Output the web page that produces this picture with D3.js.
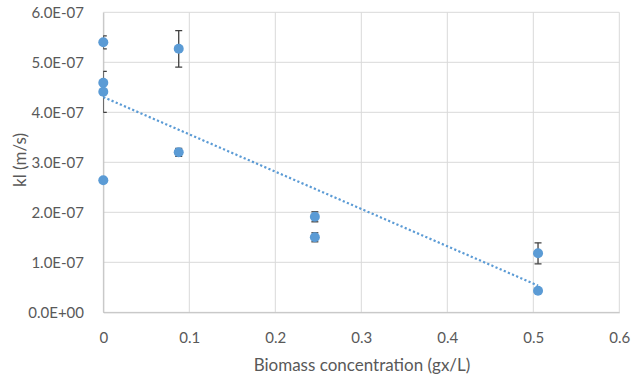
<!DOCTYPE html>
<html><head><meta charset="utf-8">
<script src="https://cdn.jsdelivr.net/npm/d3@7"></script>
<style>html,body{margin:0;padding:0;background:#fff;}svg{display:block;}</style>
</head><body>
<svg id="c" width="633" height="376"></svg>
<script>
const xVals = [0, 0, 0, 0, 0.0877, 0.0877, 0.246, 0.246, 0.5055, 0.5055];
const yVals = [5.40e-7, 4.59e-7, 4.41e-7, 2.64e-7, 5.27e-7, 3.20e-7, 1.91e-7, 1.50e-7, 1.18e-7, 0.43e-7];
const yErr  = [0.13e-7, 0, 0.41e-7, 0, 0.365e-7, 0.08e-7, 0.10e-7, 0.09e-7, 0.21e-7, 0];
const xTicks = [0, 0.1, 0.2, 0.3, 0.4, 0.5, 0.6];
const yTicks = [0, 1e-7, 2e-7, 3e-7, 4e-7, 5e-7, 6e-7];
const yTickLabels = ["0.0E+00","1.0E-07","2.0E-07","3.0E-07","4.0E-07","5.0E-07","6.0E-07"];
const xTitle = "Biomass concentration (gx/L)";
const yTitle = "kl (m/s)";

const svg = d3.select("#c");
const L = 103.3, R = 619.3, T = 12.3, B = 312.3;
const x = d3.scaleLinear().domain([0, 0.6]).range([L, R]);
const y = d3.scaleLinear().domain([0, 6e-7]).range([B, T]);
const font = "Lato, 'Open Sans', sans-serif";
const blue = "#5B9BD5";
const txt = "#595959";

// grid
svg.append("g").selectAll("line").data(yTicks).join("line")
  .attr("x1", L).attr("x2", R).attr("y1", d => y(d)).attr("y2", d => y(d))
  .attr("stroke", "#D9D9D9").attr("stroke-width", 1);
svg.append("g").selectAll("line").data(xTicks).join("line")
  .attr("x1", d => x(d)).attr("x2", d => x(d)).attr("y1", T).attr("y2", B)
  .attr("stroke", "#D9D9D9").attr("stroke-width", 1);

// axes
const yAxis = d3.axisLeft(y).tickValues(yTicks).tickSize(0).tickPadding(19.3)
  .tickFormat((d, i) => yTickLabels[i]);
const gy = svg.append("g").attr("transform", `translate(${L},0)`).call(yAxis);
gy.select(".domain").attr("stroke", "#BFBFBF");
gy.selectAll("text").attr("font-family", font).attr("font-size", 15).attr("fill", txt);

const xAxis = d3.axisBottom(x).tickValues(xTicks).tickSize(0).tickPadding(20)
  .tickFormat(d => d === 0 ? "0" : d3.format(".1f")(d));
const gx = svg.append("g").attr("transform", `translate(0,${B})`).call(xAxis);
gx.select(".domain").attr("stroke", "#BFBFBF");
gx.selectAll("text").attr("font-family", font).attr("font-size", 15).attr("fill", txt);

// titles
svg.append("text").attr("x", 362).attr("y", 371).attr("text-anchor", "middle")
  .attr("font-family", font).attr("font-size", 17).attr("fill", txt).text(xTitle);
svg.append("text").attr("transform", `translate(26,160) rotate(-90)`)
  .attr("text-anchor", "middle").attr("font-family", font).attr("font-size", 17)
  .attr("fill", txt).text(yTitle);

// error bars (clipped to plot area)
svg.append("clipPath").attr("id", "pc").append("rect")
  .attr("x", L).attr("y", 0).attr("width", R - L + 10).attr("height", B + 10);
const data = xVals.map((xv, i) => ({x: xv, y: yVals[i], e: yErr[i]}));
const eb = svg.append("g").attr("clip-path", "url(#pc)").attr("stroke", "#404040").attr("stroke-width", 1.3);
data.filter(d => d.e > 0).forEach(d => {
  const cx = x(d.x), y1 = y(d.y + d.e), y2 = y(d.y - d.e);
  eb.append("line").attr("x1", cx).attr("x2", cx).attr("y1", y1).attr("y2", y2);
  eb.append("line").attr("x1", cx - 3.5).attr("x2", cx + 3.5).attr("y1", y1).attr("y2", y1);
  eb.append("line").attr("x1", cx - 3.5).attr("x2", cx + 3.5).attr("y1", y2).attr("y2", y2);
});

// linear trendline (least squares)
const mx = d3.mean(xVals), my = d3.mean(yVals);
const sxy = d3.sum(xVals, (xv, i) => (xv - mx) * (yVals[i] - my));
const sxx = d3.sum(xVals, xv => (xv - mx) ** 2);
const slope = sxy / sxx, icpt = my - slope * mx;
const x0 = d3.min(xVals), x1 = d3.max(xVals);
svg.append("line").attr("x1", x(x0)).attr("y1", y(icpt + slope * x0))
  .attr("x2", x(x1)).attr("y2", y(icpt + slope * x1))
  .attr("stroke", blue).attr("stroke-width", 2.2).attr("stroke-dasharray", "2.2,2.3");

// markers
svg.append("g").selectAll("circle").data(data).join("circle")
  .attr("cx", d => x(d.x)).attr("cy", d => y(d.y)).attr("r", 5)
  .attr("fill", blue);
</script>
</body></html>
